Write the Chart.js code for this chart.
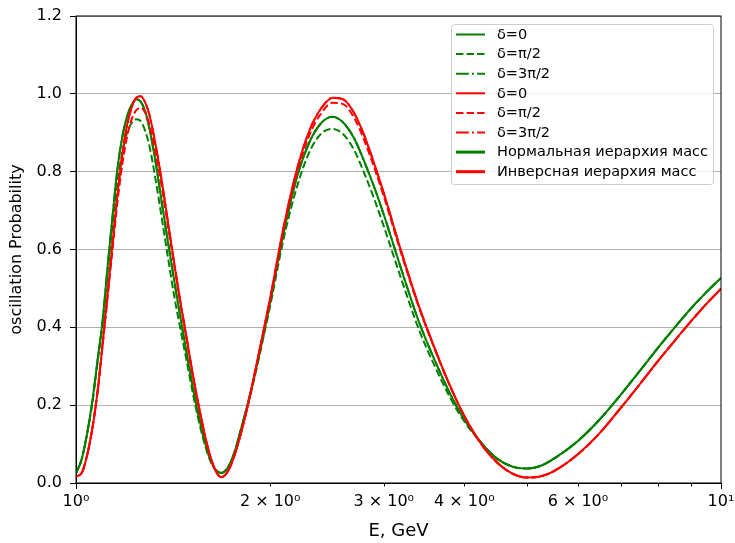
<!DOCTYPE html>
<html><head><meta charset="utf-8">
<script src="https://cdn.jsdelivr.net/npm/chart.js@4/dist/chart.umd.min.js"></script>
<style>html,body{margin:0;padding:0;background:#fff;}#wrap{width:735px;height:543px;}</style>
</head><body><div id="wrap"><canvas id="c" width="735" height="543"></canvas></div>
<script>
const energies = [1.00, 1.02, 1.04, 1.06, 1.08, 1.10, 1.12, 1.14, 1.16, 1.18, 1.20, 1.22, 1.24, 1.26, 1.28, 1.30,
  1.33, 1.36, 1.39, 1.42, 1.45, 1.48, 1.52, 1.56, 1.60, 1.64, 1.68, 1.72, 1.76, 1.80, 1.85, 1.90, 1.95, 2.0,
  2.1, 2.2, 2.3, 2.4, 2.5, 2.6, 2.7, 2.8, 2.9, 3.0, 3.2, 3.4, 3.6, 3.8, 4.0, 4.25, 4.5, 4.75, 5.0, 5.25, 5.5,
  6.0, 6.5, 7.0, 7.5, 8.0, 8.5, 9.0, 9.5, 10];

const normalDelta0 = [0.025, 0.06, 0.125, 0.21, 0.315, 0.42, 0.56, 0.69, 0.81, 0.89, 0.942, 0.972, 0.986, 0.98, 0.955, 0.91,
  0.82, 0.715, 0.615, 0.52, 0.43, 0.345, 0.24, 0.15, 0.08, 0.038, 0.026, 0.04, 0.078, 0.135, 0.21, 0.29, 0.375, 0.465,
  0.645, 0.785, 0.875, 0.925, 0.941, 0.925, 0.885, 0.825, 0.76, 0.69, 0.545, 0.415, 0.315, 0.23, 0.163, 0.103, 0.062, 0.042, 0.037, 0.044, 0.062,
  0.108, 0.165, 0.228, 0.29, 0.349, 0.402, 0.45, 0.491, 0.527];

const normalDeltaPiHalf = [0.025, 0.06, 0.125, 0.205, 0.31, 0.41, 0.545, 0.665, 0.775, 0.85, 0.9, 0.925, 0.935, 0.93, 0.905, 0.865,
  0.775, 0.675, 0.575, 0.48, 0.40, 0.325, 0.225, 0.14, 0.075, 0.037, 0.026, 0.04, 0.078, 0.135, 0.205, 0.285, 0.37, 0.455,
  0.63, 0.76, 0.85, 0.898, 0.91, 0.895, 0.855, 0.795, 0.73, 0.66, 0.52, 0.395, 0.30, 0.22, 0.158, 0.103, 0.062, 0.042, 0.037, 0.044, 0.062,
  0.108, 0.165, 0.228, 0.29, 0.349, 0.402, 0.45, 0.491, 0.527];

const normalDelta3PiHalf = [0.025, 0.06, 0.125, 0.21, 0.315, 0.42, 0.56, 0.69, 0.81, 0.89, 0.942, 0.972, 0.986, 0.98, 0.955, 0.91,
  0.82, 0.715, 0.615, 0.52, 0.43, 0.345, 0.24, 0.15, 0.08, 0.038, 0.026, 0.04, 0.078, 0.135, 0.21, 0.29, 0.375, 0.465,
  0.645, 0.785, 0.875, 0.925, 0.941, 0.925, 0.885, 0.825, 0.76, 0.69, 0.545, 0.415, 0.315, 0.23, 0.163, 0.103, 0.062, 0.042, 0.037, 0.044, 0.062,
  0.108, 0.165, 0.228, 0.29, 0.349, 0.402, 0.45, 0.491, 0.527];

const invertedDelta0 = [0.017, 0.025, 0.07, 0.14, 0.235, 0.36, 0.49, 0.62, 0.745, 0.845, 0.92, 0.965, 0.99, 0.994, 0.978, 0.945,
  0.865, 0.77, 0.665, 0.565, 0.47, 0.385, 0.272, 0.175, 0.093, 0.037, 0.015, 0.03, 0.07, 0.125, 0.205, 0.295, 0.385, 0.475,
  0.66, 0.805, 0.905, 0.963, 0.99, 0.985, 0.95, 0.892, 0.82, 0.745, 0.59, 0.455, 0.345, 0.25, 0.172, 0.10, 0.052, 0.024, 0.014, 0.017, 0.03,
  0.074, 0.13, 0.194, 0.256, 0.315, 0.368, 0.417, 0.461, 0.499];

const invertedDeltaPiHalf = [0.017, 0.025, 0.07, 0.14, 0.235, 0.355, 0.48, 0.605, 0.725, 0.82, 0.89, 0.935, 0.958, 0.964, 0.952, 0.92,
  0.845, 0.755, 0.655, 0.56, 0.465, 0.38, 0.268, 0.172, 0.092, 0.037, 0.015, 0.03, 0.07, 0.125, 0.205, 0.295, 0.385, 0.472,
  0.655, 0.795, 0.893, 0.95, 0.977, 0.973, 0.938, 0.88, 0.81, 0.737, 0.585, 0.452, 0.343, 0.249, 0.172, 0.10, 0.052, 0.024, 0.014, 0.017, 0.03,
  0.074, 0.13, 0.194, 0.256, 0.315, 0.368, 0.417, 0.461, 0.499];

const invertedDelta3PiHalf = [0.017, 0.025, 0.07, 0.14, 0.235, 0.36, 0.49, 0.62, 0.745, 0.845, 0.92, 0.965, 0.99, 0.994, 0.978, 0.945,
  0.865, 0.77, 0.665, 0.565, 0.47, 0.385, 0.272, 0.175, 0.093, 0.037, 0.015, 0.03, 0.07, 0.125, 0.205, 0.295, 0.385, 0.475,
  0.66, 0.805, 0.905, 0.963, 0.99, 0.985, 0.95, 0.892, 0.82, 0.745, 0.59, 0.455, 0.345, 0.25, 0.172, 0.10, 0.052, 0.024, 0.014, 0.017, 0.03,
  0.074, 0.13, 0.194, 0.256, 0.315, 0.368, 0.417, 0.461, 0.499];

const xTickValues = [1, 2, 3, 4, 5, 6, 7, 8, 9, 10];
const xTickLabels = {1: '10⁰', 2: '2 × 10⁰', 3: '3 × 10⁰', 4: '4 × 10⁰', 6: '6 × 10⁰', 10: '10¹'};
const yTickLabels = ['0.0', '0.2', '0.4', '0.6', '0.8', '1.0', '1.2'];
const seriesLabels = ['δ=0', 'δ=π/2', 'δ=3π/2', 'δ=0', 'δ=π/2', 'δ=3π/2'];
const hierarchyLabels = ['Нормальная иерархия масс', 'Инверсная иерархия масс'];

const FONT = '"DejaVu Sans", sans-serif';
const DASH = [7.4, 3.2];
const DASHDOT = [12.8, 3.2, 2, 3.2];

function line(label, data, color, dash, order, width) {
  return {label, data, borderColor: color, backgroundColor: color, borderWidth: width || 2,
    borderDash: dash, pointRadius: 0, pointHoverRadius: 0, fill: false,
    cubicInterpolationMode: 'monotone', order, borderCapStyle: 'butt'};
}

const datasets = [
  line(seriesLabels[0], normalDelta0, 'green', [], 7),
  line(seriesLabels[1], normalDeltaPiHalf, 'green', DASH, 6),
  line(seriesLabels[2], normalDelta3PiHalf, 'green', DASHDOT, 5),
  line(seriesLabels[3], invertedDelta0, 'red', [], 4),
  line(seriesLabels[4], invertedDeltaPiHalf, 'red', DASH, 3),
  line(seriesLabels[5], invertedDelta3PiHalf, 'red', DASHDOT, 2),
  line(hierarchyLabels[0], [], 'green', [], 1, 3),
  line(hierarchyLabels[1], [], 'red', [], 0, 3)
];

const decor = {
  id: 'decor',
  afterDraw(chart) {
    const ctx = chart.ctx, ca = chart.chartArea, xs = chart.scales.x;
    ctx.save();
    ctx.strokeStyle = '#000'; ctx.lineWidth = 1; ctx.setLineDash([]);
    ctx.strokeRect(ca.left, ca.top, ca.right - ca.left, ca.bottom - ca.top);
    xTickValues.forEach(v => {
      const px = Math.round(xs.getPixelForValue(v)) + 0.5;
      const len = (v === 1 || v === 10) ? 6 : 3.5;
      ctx.beginPath(); ctx.moveTo(px, ca.bottom); ctx.lineTo(px, ca.bottom + len); ctx.stroke();
    });
    const w = 262, h = 160;
    const x0 = ca.right - 8 - w, y0 = ca.top + 8;
    ctx.fillStyle = 'rgba(255,255,255,0.8)'; ctx.strokeStyle = '#cccccc'; ctx.lineWidth = 1;
    ctx.beginPath();
    if (ctx.roundRect) ctx.roundRect(x0 + 0.5, y0 + 0.5, w, h, 3); else ctx.rect(x0 + 0.5, y0 + 0.5, w, h);
    ctx.fill(); ctx.stroke();
    chart.data.datasets.forEach((ds, i) => {
      const yy = y0 + 10.5 + i * 19.6;
      ctx.setLineDash(ds.borderDash || []);
      ctx.strokeStyle = ds.borderColor; ctx.lineWidth = ds.borderWidth;
      ctx.beginPath(); ctx.moveTo(x0 + 5, yy); ctx.lineTo(x0 + 34, yy); ctx.stroke();
      ctx.setLineDash([]);
      ctx.fillStyle = '#000'; ctx.font = '14.5px ' + FONT; ctx.textBaseline = 'middle'; ctx.textAlign = 'left';
      ctx.fillText(ds.label, x0 + 46, yy + 0.5);
    });
    ctx.restore();
  }
};

new Chart(document.getElementById('c'), {
  type: 'line',
  data: {labels: energies, datasets},
  options: {
    responsive: false, animation: false, devicePixelRatio: 1,
    layout: {padding: {left: 0, right: 14, top: 16, bottom: 0}},
    plugins: {legend: {display: false}, tooltip: {enabled: false}},
    scales: {
      x: {
        type: 'logarithmic', min: 1, max: 10,
        afterBuildTicks: s => { s.ticks = xTickValues.map(v => ({value: v, major: v === 1 || v === 10})); },
        afterFit: s => { s.height = 60; s.paddingLeft = 0; s.paddingRight = 0; },
        ticks: {autoSkip: false, maxRotation: 0, minRotation: 0, padding: 3, color: '#000',
          font: {family: FONT, size: 16}, callback: v => xTickLabels[v] || ''},
        grid: {display: true, drawOnChartArea: false, drawTicks: true, tickLength: 6, tickColor: 'rgba(0,0,0,0)'},
        border: {display: true, color: '#000', width: 1},
        title: {display: true, text: 'E, GeV', color: '#000', font: {family: FONT, size: 18}, padding: {top: 0, bottom: 1}}
      },
      y: {
        type: 'linear', min: 0, max: 1.2,
        afterBuildTicks: s => { s.ticks = yTickLabels.map(t => ({value: parseFloat(t)})); },
        afterFit: s => { s.width = 76; s.paddingTop = 0; s.paddingBottom = 0; },
        ticks: {padding: 8, color: '#000', font: {family: FONT, size: 16},
          callback: (v, i) => yTickLabels[i]},
        grid: {color: '#b0b0b0', lineWidth: 1, tickColor: '#000', tickLength: 6, drawTicks: true},
        border: {display: true, color: '#000', width: 1},
        title: {display: true, text: 'oscillation Probability', color: '#000', font: {family: FONT, size: 16}, padding: {top: 7.4, bottom: 0}}
      }
    }
  },
  plugins: [decor]
});
</script>
</body></html>
